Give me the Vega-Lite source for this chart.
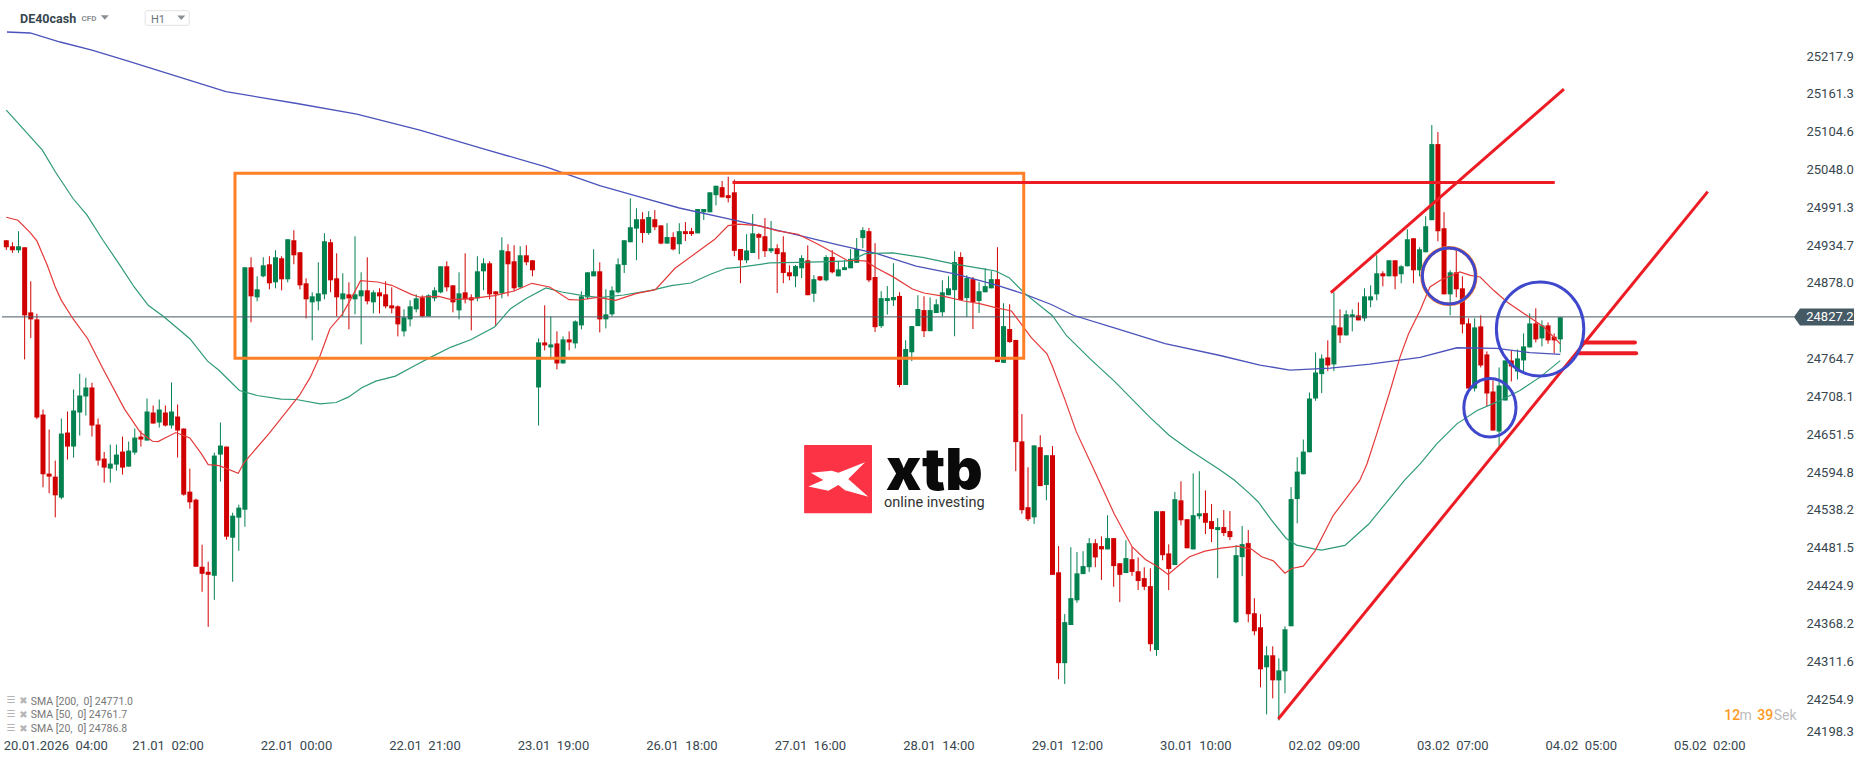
{"$schema":"https://vega.github.io/schema/vega-lite/v6.json","width":1866,"height":761,"autosize":"none","padding":0,"background":"#ffffff","config":{"view":{"stroke":null},"font":"Roboto"},
"datasets":{
"candles":[
{"bar":0,"open":24942,"high":24942,"low":24927.5,"close":24931.5},
{"bar":1,"open":24933,"high":24939,"low":24923,"close":24927},
{"bar":2,"open":24927,"high":24955.5,"low":24923,"close":24933},
{"bar":3,"open":24931.5,"high":24931.5,"low":24763.5,"close":24829.5},
{"bar":4,"open":24834,"high":24880.5,"low":24795.5,"close":24823.5},
{"bar":5,"open":24823.5,"high":24832,"low":24674,"close":24676.5},
{"bar":6,"open":24681,"high":24688.5,"low":24572,"close":24591.5},
{"bar":7,"open":24592.5,"high":24658.5,"low":24563,"close":24588},
{"bar":8,"open":24588,"high":24612,"low":24527,"close":24560},
{"bar":9,"open":24556.5,"high":24675,"low":24554,"close":24652.5},
{"bar":10,"open":24654,"high":24685.5,"low":24613.5,"close":24633},
{"bar":11,"open":24633,"high":24718.5,"low":24616.5,"close":24687},
{"bar":12,"open":24684,"high":24742,"low":24649.5,"close":24709.5},
{"bar":13,"open":24708,"high":24736,"low":24679.5,"close":24721.5},
{"bar":14,"open":24721.5,"high":24728.5,"low":24648,"close":24664.5},
{"bar":15,"open":24666,"high":24675,"low":24604.5,"close":24612},
{"bar":16,"open":24615,"high":24625,"low":24579,"close":24601.5},
{"bar":17,"open":24600,"high":24636,"low":24579,"close":24607.5},
{"bar":18,"open":24606,"high":24636,"low":24597,"close":24621},
{"bar":19,"open":24625.5,"high":24648,"low":24591,"close":24601.5},
{"bar":20,"open":24603,"high":24640.5,"low":24603,"close":24627},
{"bar":21,"open":24624,"high":24660,"low":24621,"close":24646.5},
{"bar":22,"open":24648,"high":24657,"low":24633,"close":24643.5},
{"bar":23,"open":24642,"high":24705,"low":24642,"close":24685.5},
{"bar":24,"open":24684,"high":24694.5,"low":24667.5,"close":24667.5},
{"bar":25,"open":24669,"high":24703.5,"low":24661.5,"close":24688.5},
{"bar":26,"open":24684,"high":24694.5,"low":24663,"close":24664.5},
{"bar":27,"open":24664.5,"high":24729,"low":24660,"close":24685.5},
{"bar":28,"open":24678,"high":24696,"low":24616.5,"close":24657},
{"bar":29,"open":24660,"high":24660,"low":24559.5,"close":24561},
{"bar":30,"open":24565.5,"high":24600,"low":24540,"close":24549.5},
{"bar":31,"open":24553.5,"high":24555,"low":24453,"close":24453},
{"bar":32,"open":24453,"high":24486,"low":24415.5,"close":24442.5},
{"bar":33,"open":24445.5,"high":24460.5,"low":24363,"close":24441},
{"bar":34,"open":24439.5,"high":24624,"low":24403.5,"close":24619.5},
{"bar":35,"open":24621,"high":24669,"low":24580.5,"close":24634.5},
{"bar":36,"open":24633,"high":24633,"low":24493.5,"close":24498},
{"bar":37,"open":24496.5,"high":24534,"low":24430.5,"close":24529.5},
{"bar":38,"open":24526.5,"high":24546,"low":24477,"close":24541.5},
{"bar":39,"open":24538.5,"high":24901.5,"low":24513,"close":24901.5},
{"bar":40,"open":24901.5,"high":24916.5,"low":24819,"close":24858},
{"bar":41,"open":24856.5,"high":24888,"low":24850.5,"close":24868.5},
{"bar":42,"open":24888,"high":24916.5,"low":24886.5,"close":24904.5},
{"bar":43,"open":24906,"high":24918,"low":24868.5,"close":24877.5},
{"bar":44,"open":24879,"high":24927,"low":24870,"close":24916.5},
{"bar":45,"open":24915,"high":24918,"low":24867,"close":24883.5},
{"bar":46,"open":24883.5,"high":24943.5,"low":24879,"close":24943.5},
{"bar":47,"open":24942,"high":24957,"low":24906,"close":24919.5},
{"bar":48,"open":24924,"high":24924,"low":24868.5,"close":24874.5},
{"bar":49,"open":24877.5,"high":24885,"low":24825,"close":24853.5},
{"bar":50,"open":24849,"high":24864,"low":24792,"close":24858},
{"bar":51,"open":24850.5,"high":24909,"low":24837,"close":24862.5},
{"bar":52,"open":24861,"high":24952.5,"low":24853.5,"close":24940.5},
{"bar":53,"open":24939,"high":24943.5,"low":24864,"close":24882},
{"bar":54,"open":24885,"high":24922.5,"low":24828,"close":24856.5},
{"bar":55,"open":24853.5,"high":24892.5,"low":24828,"close":24862.5},
{"bar":56,"open":24861,"high":24879,"low":24808.5,"close":24855},
{"bar":57,"open":24853.5,"high":24948,"low":24831,"close":24861},
{"bar":58,"open":24858,"high":24894,"low":24786,"close":24867},
{"bar":59,"open":24867,"high":24916.5,"low":24846,"close":24850.5},
{"bar":60,"open":24849,"high":24867,"low":24832.5,"close":24864},
{"bar":61,"open":24864,"high":24870,"low":24832.5,"close":24858},
{"bar":62,"open":24861,"high":24880.5,"low":24840,"close":24843},
{"bar":63,"open":24844.5,"high":24871.5,"low":24832.5,"close":24840},
{"bar":64,"open":24843,"high":24844.5,"low":24798,"close":24816},
{"bar":65,"open":24805.5,"high":24838.5,"low":24798,"close":24826.5},
{"bar":66,"open":24823.5,"high":24852,"low":24813,"close":24843},
{"bar":67,"open":24838.5,"high":24861,"low":24834,"close":24855},
{"bar":68,"open":24856.5,"high":24859.5,"low":24826.5,"close":24828},
{"bar":69,"open":24828,"high":24861,"low":24828,"close":24859.5},
{"bar":70,"open":24855,"high":24871.5,"low":24850.5,"close":24867},
{"bar":71,"open":24864,"high":24903,"low":24862.5,"close":24903},
{"bar":72,"open":24903,"high":24910.5,"low":24865.5,"close":24871.5},
{"bar":73,"open":24874.5,"high":24874.5,"low":24834,"close":24849},
{"bar":74,"open":24837,"high":24894,"low":24823.5,"close":24862.5},
{"bar":75,"open":24864,"high":24922.5,"low":24847.5,"close":24853.5},
{"bar":76,"open":24856.5,"high":24861,"low":24807,"close":24852},
{"bar":77,"open":24855,"high":24918,"low":24850.5,"close":24895.5},
{"bar":78,"open":24895.5,"high":24915,"low":24867,"close":24907.5},
{"bar":79,"open":24907.5,"high":24910.5,"low":24853.5,"close":24861},
{"bar":80,"open":24865.5,"high":24865.5,"low":24813,"close":24861},
{"bar":81,"open":24862.5,"high":24946.5,"low":24855,"close":24927},
{"bar":82,"open":24925.5,"high":24936,"low":24858,"close":24906},
{"bar":83,"open":24910.5,"high":24934.5,"low":24865.5,"close":24870},
{"bar":84,"open":24871.5,"high":24933,"low":24870,"close":24919.5},
{"bar":85,"open":24919.5,"high":24934.5,"low":24904.5,"close":24909},
{"bar":86,"open":24912,"high":24912,"low":24888,"close":24897},
{"bar":87,"open":24721.5,"high":24795,"low":24664.5,"close":24789},
{"bar":88,"open":24789,"high":24844.5,"low":24777,"close":24784.5},
{"bar":89,"open":24781.5,"high":24828,"low":24765,"close":24786},
{"bar":90,"open":24787.5,"high":24805.5,"low":24748.5,"close":24757.5},
{"bar":91,"open":24757.5,"high":24798,"low":24757.5,"close":24793.5},
{"bar":92,"open":24793.5,"high":24805.5,"low":24777,"close":24789},
{"bar":93,"open":24787.5,"high":24822,"low":24780,"close":24820.5},
{"bar":94,"open":24814.5,"high":24865.5,"low":24808.5,"close":24858},
{"bar":95,"open":24856.5,"high":24894,"low":24853.5,"close":24894},
{"bar":96,"open":24888,"high":24928.5,"low":24888,"close":24895.5},
{"bar":97,"open":24895.5,"high":24909,"low":24804,"close":24823.5},
{"bar":98,"open":24823.5,"high":24868.5,"low":24810,"close":24831},
{"bar":99,"open":24831,"high":24873,"low":24828,"close":24867},
{"bar":100,"open":24864,"high":24915,"low":24862.5,"close":24906},
{"bar":101,"open":24905,"high":24942,"low":24893,"close":24942},
{"bar":102,"open":24939,"high":25004.6,"low":24939,"close":24961.5},
{"bar":103,"open":24959.4,"high":24989.9,"low":24912,"close":24973.5},
{"bar":104,"open":24973.5,"high":24983.9,"low":24938.1,"close":24952.8},
{"bar":105,"open":24952.8,"high":24985.5,"low":24950.1,"close":24976.8},
{"bar":106,"open":24973.5,"high":24987.1,"low":24957.2,"close":24961.5},
{"bar":107,"open":24964.3,"high":24964.3,"low":24936,"close":24937},
{"bar":108,"open":24937,"high":24967.5,"low":24937,"close":24946.8},
{"bar":109,"open":24946.8,"high":24953.9,"low":24926.7,"close":24928.3},
{"bar":110,"open":24936,"high":24967.5,"low":24921.2,"close":24955.6},
{"bar":111,"open":24955.6,"high":24969.2,"low":24940.8,"close":24951.2},
{"bar":112,"open":24955.6,"high":24960.5,"low":24948.5,"close":24951.2},
{"bar":113,"open":24952.3,"high":24988.8,"low":24952.3,"close":24988.8},
{"bar":114,"open":24983.9,"high":24988.8,"low":24972.4,"close":24988.8},
{"bar":115,"open":24983.9,"high":25013.8,"low":24983.9,"close":25013.8},
{"bar":116,"open":25009.5,"high":25023.6,"low":24994.2,"close":25023.6},
{"bar":117,"open":25021.5,"high":25030.7,"low":25006.2,"close":25006.2},
{"bar":118,"open":25009.5,"high":25037.2,"low":24998.6,"close":25005.1},
{"bar":119,"open":25013.8,"high":25032.9,"low":24918,"close":24926.1},
{"bar":120,"open":24928.9,"high":24928.9,"low":24877.7,"close":24912},
{"bar":121,"open":24912,"high":24951.2,"low":24907.6,"close":24926.7},
{"bar":122,"open":24922.9,"high":24981.2,"low":24922.9,"close":24952.3},
{"bar":123,"open":24951.2,"high":24952.8,"low":24913.6,"close":24945.8},
{"bar":124,"open":24948,"high":24975.2,"low":24916.9,"close":24925.6},
{"bar":125,"open":24925.6,"high":24970.8,"low":24922.9,"close":24930},
{"bar":126,"open":24930,"high":24936,"low":24863,"close":24921.2},
{"bar":127,"open":24924,"high":24948,"low":24877.7,"close":24893},
{"bar":128,"open":24894,"high":24904.4,"low":24882,"close":24888},
{"bar":129,"open":24888,"high":24905,"low":24871.7,"close":24903.3},
{"bar":130,"open":24900,"high":24919.6,"low":24885.3,"close":24915.3},
{"bar":131,"open":24912,"high":24934.3,"low":24859.7,"close":24859.7},
{"bar":132,"open":24861.9,"high":24889.7,"low":24849.4,"close":24883.7},
{"bar":133,"open":24888,"high":24888,"low":24881,"close":24882},
{"bar":134,"open":24882,"high":24919.6,"low":24880.4,"close":24916.9},
{"bar":135,"open":24916.9,"high":24927.2,"low":24892.4,"close":24894},
{"bar":136,"open":24888,"high":24910.4,"low":24888,"close":24898.4},
{"bar":137,"open":24897.3,"high":24912,"low":24897.3,"close":24901.6},
{"bar":138,"open":24900,"high":24928.9,"low":24900,"close":24914.2},
{"bar":139,"open":24908.2,"high":24945.2,"low":24908.2,"close":24928.9},
{"bar":140,"open":24945.2,"high":24961.5,"low":24930,"close":24957.2},
{"bar":141,"open":24955.6,"high":24960.5,"low":24879.3,"close":24882},
{"bar":142,"open":24887,"high":24937.6,"low":24804.7,"close":24811.8},
{"bar":143,"open":24813.4,"high":24865.7,"low":24810.7,"close":24855.3},
{"bar":144,"open":24851,"high":24873.3,"low":24830.8,"close":24855.3},
{"bar":145,"open":24852.1,"high":24907.6,"low":24843.4,"close":24857},
{"bar":146,"open":24858.6,"high":24864.1,"low":24721.9,"close":24725.2},
{"bar":147,"open":24725.2,"high":24792.2,"low":24725.2,"close":24779.1},
{"bar":148,"open":24774.2,"high":24813.4,"low":24761.1,"close":24813.4},
{"bar":149,"open":24813.4,"high":24859.7,"low":24813.4,"close":24839},
{"bar":150,"open":24837.4,"high":24858.1,"low":24797.1,"close":24805.8},
{"bar":151,"open":24805.8,"high":24856.4,"low":24805.8,"close":24837.4},
{"bar":152,"open":24833,"high":24853.7,"low":24833,"close":24846.1},
{"bar":153,"open":24834.1,"high":24882,"low":24828.1,"close":24864.1},
{"bar":154,"open":24859.7,"high":24888,"low":24859.7,"close":24870},
{"bar":155,"open":24867.3,"high":24925.6,"low":24798.2,"close":24909.3},
{"bar":156,"open":24916.9,"high":24924,"low":24852.6,"close":24852.6},
{"bar":157,"open":24855.3,"high":24889.7,"low":24827,"close":24885.3},
{"bar":158,"open":24883.7,"high":24887,"low":24809.1,"close":24849.4},
{"bar":159,"open":24851,"high":24879.3,"low":24833,"close":24865.7},
{"bar":160,"open":24864.1,"high":24900,"low":24864.1,"close":24873.3},
{"bar":161,"open":24870,"high":24895.7,"low":24870,"close":24883.7},
{"bar":162,"open":24883.7,"high":24931.6,"low":24759.5,"close":24759.5},
{"bar":163,"open":24758.4,"high":24847.7,"low":24758.4,"close":24813.4},
{"bar":164,"open":24809.1,"high":24846.1,"low":24788.4,"close":24789.5},
{"bar":165,"open":24792.7,"high":24792.7,"low":24596.1,"close":24639.7},
{"bar":166,"open":24640.8,"high":24681.6,"low":24532.4,"close":24537.8},
{"bar":167,"open":24542.2,"high":24602.1,"low":24521.5,"close":24524.2},
{"bar":168,"open":24527,"high":24634.8,"low":24517.2,"close":24634.8},
{"bar":169,"open":24632.1,"high":24650,"low":24573.8,"close":24573.8},
{"bar":170,"open":24575.4,"high":24620.1,"low":24552.5,"close":24620.1},
{"bar":171,"open":24620.1,"high":24633.7,"low":24440.9,"close":24440.9},
{"bar":172,"open":24444.7,"high":24483.9,"low":24284.6,"close":24308.6},
{"bar":173,"open":24308.6,"high":24382.1,"low":24277.5,"close":24370.1},
{"bar":174,"open":24365.8,"high":24482.3,"low":24365.8,"close":24406},
{"bar":175,"open":24402.8,"high":24475.2,"low":24399,"close":24443.1},
{"bar":176,"open":24442,"high":24476.3,"low":24442,"close":24454},
{"bar":177,"open":24452.3,"high":24495.9,"low":24445.3,"close":24488.3},
{"bar":178,"open":24488.3,"high":24494.3,"low":24452.3,"close":24467},
{"bar":179,"open":24484,"high":24498.6,"low":24433.3,"close":24479},
{"bar":180,"open":24479,"high":24530.2,"low":24479,"close":24495.9},
{"bar":181,"open":24495.9,"high":24495.9,"low":24423,"close":24454},
{"bar":182,"open":24458.3,"high":24458.3,"low":24400,"close":24440.9},
{"bar":183,"open":24443.6,"high":24492.6,"low":24443.6,"close":24466},
{"bar":184,"open":24464.3,"high":24482.3,"low":24439.3,"close":24445.3},
{"bar":185,"open":24446.3,"high":24467,"low":24418,"close":24431.6},
{"bar":186,"open":24436,"high":24452.3,"low":24418,"close":24423},
{"bar":187,"open":24424,"high":24450.7,"low":24326.5,"close":24337},
{"bar":188,"open":24328.2,"high":24536.2,"low":24319.5,"close":24536.2},
{"bar":189,"open":24536.2,"high":24536.2,"low":24462.7,"close":24470.3},
{"bar":190,"open":24473,"high":24486.6,"low":24418,"close":24449.6},
{"bar":191,"open":24455.6,"high":24565.1,"low":24455.6,"close":24554.2},
{"bar":192,"open":24552.5,"high":24580.9,"low":24515,"close":24522.6},
{"bar":193,"open":24524.2,"high":24524.2,"low":24480.7,"close":24480.7},
{"bar":194,"open":24479,"high":24592.8,"low":24479,"close":24530.2},
{"bar":195,"open":24528.6,"high":24596.1,"low":24524.2,"close":24533},
{"bar":196,"open":24533.4,"high":24567.3,"low":24501.9,"close":24518.9},
{"bar":197,"open":24521.4,"high":24546.9,"low":24489.9,"close":24509.4},
{"bar":198,"open":24507.9,"high":24525.9,"low":24435.9,"close":24512.4},
{"bar":199,"open":24512.4,"high":24537.9,"low":24498.9,"close":24503.4},
{"bar":200,"open":24506.4,"high":24536.4,"low":24492.9,"close":24497.4},
{"bar":201,"open":24369.9,"high":24485.4,"low":24368.4,"close":24470.4},
{"bar":202,"open":24467.4,"high":24513.9,"low":24438.9,"close":24486.9},
{"bar":203,"open":24488.4,"high":24507.9,"low":24369.9,"close":24381.9},
{"bar":204,"open":24383.4,"high":24405.9,"low":24350.4,"close":24356.4},
{"bar":205,"open":24362.4,"high":24381.9,"low":24272.4,"close":24299.4},
{"bar":206,"open":24302.4,"high":24333.9,"low":24231.9,"close":24320.4},
{"bar":207,"open":24320.4,"high":24333.9,"low":24255.9,"close":24282.9},
{"bar":208,"open":24282.9,"high":24315.9,"low":24222.9,"close":24297.9},
{"bar":209,"open":24296.4,"high":24363.9,"low":24263.4,"close":24359.4},
{"bar":210,"open":24363.9,"high":24572.4,"low":24363.9,"close":24554.4},
{"bar":211,"open":24554.4,"high":24617,"low":24518,"close":24595.5},
{"bar":212,"open":24591.5,"high":24643.5,"low":24591.5,"close":24625.5},
{"bar":213,"open":24624.5,"high":24714,"low":24624.5,"close":24705},
{"bar":214,"open":24705,"high":24774,"low":24701.5,"close":24744},
{"bar":215,"open":24741.5,"high":24771,"low":24713,"close":24765},
{"bar":216,"open":24766.5,"high":24792,"low":24746,"close":24754.5},
{"bar":217,"open":24756,"high":24864,"low":24746,"close":24814.5},
{"bar":218,"open":24811.5,"high":24838.5,"low":24788,"close":24799.5},
{"bar":219,"open":24799.5,"high":24837,"low":24799.5,"close":24831},
{"bar":220,"open":24827,"high":24838.5,"low":24805.5,"close":24831},
{"bar":221,"open":24829.5,"high":24849,"low":24822,"close":24822},
{"bar":222,"open":24825,"high":24870,"low":24820.5,"close":24858},
{"bar":223,"open":24852,"high":24874.5,"low":24841.5,"close":24858},
{"bar":224,"open":24861,"high":24919.5,"low":24852,"close":24892.5},
{"bar":225,"open":24892.5,"high":24895.5,"low":24873,"close":24888},
{"bar":226,"open":24888,"high":24912,"low":24888,"close":24912},
{"bar":227,"open":24912,"high":24912,"low":24868.5,"close":24888},
{"bar":228,"open":24891,"high":24904.5,"low":24877.5,"close":24903},
{"bar":229,"open":24903,"high":24958.5,"low":24903,"close":24943.5},
{"bar":230,"open":24945,"high":24945,"low":24877.5,"close":24897},
{"bar":231,"open":24897,"high":24931.5,"low":24888,"close":24928.5},
{"bar":232,"open":24924,"high":24978,"low":24924,"close":24963},
{"bar":233,"open":24972,"high":25114.5,"low":24972,"close":25086},
{"bar":234,"open":25086,"high":25104,"low":24940.5,"close":24955.5},
{"bar":235,"open":24960,"high":24984,"low":24861,"close":24861},
{"bar":236,"open":24861,"high":24897,"low":24829.5,"close":24894},
{"bar":237,"open":24894,"high":24927,"low":24856.5,"close":24868.5},
{"bar":238,"open":24870,"high":24888,"low":24802.5,"close":24816},
{"bar":239,"open":24817.5,"high":24825,"low":24720,"close":24720},
{"bar":240,"open":24720,"high":24825,"low":24715.5,"close":24811.5},
{"bar":241,"open":24813,"high":24829.5,"low":24751.5,"close":24754.5},
{"bar":242,"open":24771,"high":24775.5,"low":24693,"close":24712.5},
{"bar":243,"open":24715.5,"high":24732,"low":24657,"close":24657},
{"bar":244,"open":24655.5,"high":24751.5,"low":24633,"close":24724.5},
{"bar":245,"open":24702,"high":24762,"low":24702,"close":24762},
{"bar":246,"open":24762,"high":24777,"low":24730.5,"close":24753},
{"bar":247,"open":24745.5,"high":24778.5,"low":24733.5,"close":24765},
{"bar":248,"open":24762,"high":24802.5,"low":24745.5,"close":24783},
{"bar":249,"open":24781.5,"high":24832.5,"low":24781.5,"close":24817.5},
{"bar":250,"open":24817.5,"high":24840,"low":24789,"close":24793.5},
{"bar":251,"open":24795,"high":24822,"low":24783,"close":24814.5},
{"bar":252,"open":24814.5,"high":24819,"low":24787,"close":24792},
{"bar":253,"open":24797.5,"high":24802.5,"low":24772.5,"close":24792},
{"bar":254,"open":24793.5,"high":24826.5,"low":24774,"close":24826.5}
],
"sma20":[
{"bar":0,"price":24976.5},{"bar":1.9,"price":24972},{"bar":3.8,"price":24954.5},{"bar":5,"price":24941},{"bar":6.7,"price":24904.5},{"bar":8,"price":24872},{"bar":9,"price":24852},{"bar":10.9,"price":24824.5},{"bar":13.3,"price":24794.5},{"bar":15.8,"price":24749.5},{"bar":19.3,"price":24689.5},{"bar":21.9,"price":24654.5},{"bar":23.9,"price":24641},{"bar":24.8,"price":24640.5},{"bar":27.7,"price":24654},{"bar":30,"price":24646},{"bar":31.9,"price":24622},{"bar":33,"price":24606},{"bar":34.8,"price":24604.5},{"bar":37.9,"price":24593},{"bar":38.9,"price":24609.5},{"bar":42.9,"price":24652},{"bar":46.8,"price":24697},{"bar":47.9,"price":24709.5},{"bar":49.7,"price":24737},{"bar":51.3,"price":24769.5},{"bar":52.9,"price":24809.5},{"bar":54.9,"price":24831},{"bar":56.2,"price":24852},{"bar":57.9,"price":24881.5},{"bar":60.7,"price":24879.5},{"bar":63,"price":24874.5},{"bar":66.2,"price":24861},{"bar":67.5,"price":24857},{"bar":70.7,"price":24858},{"bar":72.7,"price":24853},{"bar":75.9,"price":24854.5},{"bar":79.8,"price":24859},{"bar":83,"price":24866},{"bar":85.9,"price":24877.5},{"bar":88.8,"price":24872},{"bar":92,"price":24853},{"bar":93.7,"price":24852.5},{"bar":96.6,"price":24856.5},{"bar":99.6,"price":24852},{"bar":102.9,"price":24862},{"bar":106.1,"price":24868},{"bar":109.3,"price":24900},{"bar":112.6,"price":24922},{"bar":115.8,"price":24943.6},{"bar":118,"price":24964},{"bar":119.7,"price":24966},{"bar":122.9,"price":24964},{"bar":126.1,"price":24956},{"bar":129.4,"price":24951},{"bar":132.6,"price":24936.5},{"bar":135.2,"price":24923.4},{"bar":137.4,"price":24912},{"bar":140.4,"price":24911},{"bar":142.3,"price":24900},{"bar":144.9,"price":24887.5},{"bar":148.1,"price":24869},{"bar":150,"price":24863},{"bar":153.3,"price":24858},{"bar":156.5,"price":24851},{"bar":159.1,"price":24847},{"bar":161.7,"price":24841},{"bar":164.3,"price":24836},{"bar":167.5,"price":24796.5},{"bar":170.1,"price":24772},{"bar":171,"price":24753},{"bar":173,"price":24704},{"bar":174.9,"price":24655},{"bar":177.8,"price":24598},{"bar":181.1,"price":24532},{"bar":184,"price":24483},{"bar":186.2,"price":24464},{"bar":188.2,"price":24453},{"bar":189.9,"price":24441.5},{"bar":191.4,"price":24453},{"bar":193.4,"price":24468},{"bar":195.9,"price":24476.4},{"bar":198.6,"price":24480.9},{"bar":201.3,"price":24483.9},{"bar":203.5,"price":24479.4},{"bar":205.2,"price":24467.9},{"bar":207.1,"price":24461.9},{"bar":209,"price":24443.4},{"bar":210.1,"price":24450.4},{"bar":212,"price":24453.9},{"bar":213.9,"price":24476.4},{"bar":216.9,"price":24530},{"bar":221.2,"price":24582},{"bar":222.4,"price":24607},{"bar":224,"price":24652},{"bar":226.2,"price":24717},{"bar":227.8,"price":24767},{"bar":229.2,"price":24802},{"bar":231.1,"price":24837},{"bar":232.7,"price":24872},{"bar":234.4,"price":24882},{"bar":237.6,"price":24894.5},{"bar":239.3,"price":24889.5},{"bar":240.9,"price":24887},{"bar":243.1,"price":24867},{"bar":245.3,"price":24849.5},{"bar":248.5,"price":24829.5},{"bar":251.3,"price":24812},{"bar":254,"price":24786.8}
],
"sma50":[
{"bar":0,"price":25137},{"bar":5.9,"price":25077},{"bar":8,"price":25044.5},{"bar":10.9,"price":25004.5},{"bar":13.2,"price":24979.5},{"bar":15.8,"price":24942},{"bar":18.4,"price":24907},{"bar":20.9,"price":24872},{"bar":23.2,"price":24844.5},{"bar":25.8,"price":24827},{"bar":30,"price":24794.5},{"bar":32.9,"price":24761},{"bar":34.8,"price":24747},{"bar":38.1,"price":24717},{"bar":41,"price":24709.5},{"bar":44.9,"price":24704},{"bar":47.4,"price":24703.5},{"bar":51.3,"price":24697},{"bar":53.9,"price":24699},{"bar":55.9,"price":24707},{"bar":58.1,"price":24721},{"bar":60.4,"price":24731},{"bar":63.6,"price":24738.5},{"bar":66.8,"price":24754.5},{"bar":69.4,"price":24767},{"bar":72.7,"price":24782},{"bar":75.9,"price":24793},{"bar":79.8,"price":24812},{"bar":82.4,"price":24839.5},{"bar":84.9,"price":24854.5},{"bar":88.2,"price":24870.5},{"bar":90.8,"price":24864.5},{"bar":94,"price":24859.5},{"bar":97,"price":24856},{"bar":100.9,"price":24860},{"bar":105.4,"price":24867},{"bar":108.7,"price":24874},{"bar":111.9,"price":24878},{"bar":115.1,"price":24891},{"bar":117.7,"price":24900},{"bar":120.3,"price":24902},{"bar":124.8,"price":24908},{"bar":129.4,"price":24909},{"bar":134.5,"price":24910},{"bar":137.8,"price":24911},{"bar":140.4,"price":24922},{"bar":144.9,"price":24923},{"bar":150,"price":24916},{"bar":154.6,"price":24907},{"bar":159.7,"price":24899},{"bar":161.7,"price":24896},{"bar":163.9,"price":24886},{"bar":166.5,"price":24862},{"bar":171,"price":24829},{"bar":173.3,"price":24799},{"bar":177.2,"price":24764},{"bar":181.1,"price":24731},{"bar":186.9,"price":24677},{"bar":190.1,"price":24649.5},{"bar":193.4,"price":24628},{"bar":198.4,"price":24598},{"bar":200.7,"price":24582.9},{"bar":203,"price":24564.4},{"bar":204.6,"price":24550.4},{"bar":206.8,"price":24522.9},{"bar":209.2,"price":24495.4},{"bar":210.9,"price":24485.4},{"bar":213.9,"price":24479.4},{"bar":215,"price":24478},{"bar":218.8,"price":24485},{"bar":222.7,"price":24517},{"bar":228.6,"price":24583},{"bar":231.1,"price":24607},{"bar":233.8,"price":24637},{"bar":237.1,"price":24667},{"bar":240.4,"price":24687},{"bar":243.6,"price":24699.5},{"bar":247.4,"price":24717},{"bar":250.7,"price":24737},{"bar":254,"price":24761.7}
],
"sma200":[
{"bar":0.1,"price":25253.9},{"bar":3.9,"price":25252.4},{"bar":8.8,"price":25238.9},{"bar":14,"price":25226.9},{"bar":19.4,"price":25211.9},{"bar":35.9,"price":25164.6},{"bar":47.5,"price":25146.8},{"bar":57.3,"price":25130.8},{"bar":67.6,"price":25107},{"bar":78.7,"price":25077},{"bar":88.2,"price":25052},{"bar":97,"price":25023.8},{"bar":103.5,"price":25006.8},{"bar":110,"price":24990.3},{"bar":119,"price":24972.3},{"bar":129.4,"price":24949.8},{"bar":135.8,"price":24935.6},{"bar":142.3,"price":24922},{"bar":148.7,"price":24903.4},{"bar":155.2,"price":24891.4},{"bar":161.6,"price":24875.7},{"bar":166.2,"price":24862},{"bar":170.8,"price":24845.8},{"bar":174.5,"price":24829.3},{"bar":181.1,"price":24810.6},{"bar":189.4,"price":24787.3},{"bar":198.4,"price":24769.4},{"bar":204.9,"price":24755},{"bar":209.8,"price":24747.6},{"bar":216.4,"price":24750.6},{"bar":222.9,"price":24756.6},{"bar":231.1,"price":24766.7},{"bar":237.1,"price":24781},{"bar":243.6,"price":24780},{"bar":249,"price":24773.6},{"bar":254,"price":24771}
],
"trendlines":[
{"bar":118.7,"bar2":253.1,"price":25028.6,"price2":25028.6},
{"bar":216.5,"bar2":254.6,"price":24863.4,"price2":25168.5},
{"bar":207.9,"bar2":278.1,"price":24225,"price2":25014.8}
],
"marks":[
{"bar":257.8,"bar2":266.2,"price":24789,"price2":24789},
{"bar":257,"bar2":266.4,"price":24772.7,"price2":24772.7}
],
"legend":[
{"bar":4,"price":24250.9,"text":"SMA [200,\u00a0\u00a00] 24771.0"},
{"bar":4,"price":24230.5,"text":"SMA [50,\u00a0\u00a00] 24761.7"},
{"bar":4,"price":24209.5,"text":"SMA [20,\u00a0\u00a00] 24786.8"}
]
},
"encoding":{
"x":{"field":"bar","type":"quantitative","scale":{"domain":[-1.03,303.97],"nice":false,"zero":false},"axis":{"orient":"bottom","offset":-16,"title":null,"grid":false,"domain":false,"ticks":false,"labelPadding":0,"labelBaseline":"middle","labelFontSize":13,"labelFont":"Roboto","labelColor":"#37474f","labelFlush":false,"labelBound":false,"labelOverlap":false,"values":[8,26.35,47.35,68.35,89.35,110.35,131.35,152.35,173.35,194.35,215.35,236.35,257.35,278.35],"labelExpr":"['20.01.2026\u00a0\u00a004:00','21.01\u00a0\u00a002:00','22.01\u00a0\u00a000:00','22.01\u00a0\u00a021:00','23.01\u00a0\u00a019:00','26.01\u00a0\u00a018:00','27.01\u00a0\u00a016:00','28.01\u00a0\u00a014:00','29.01\u00a0\u00a012:00','30.01\u00a0\u00a010:00','02.02\u00a0\u00a009:00','03.02\u00a0\u00a007:00','04.02\u00a0\u00a005:00','05.02\u00a0\u00a002:00'][round((datum.value-26.35)/21)+1]"}},
"y":{"field":"price","type":"quantitative","scale":{"domain":[24162.1,25301.8],"nice":false,"zero":false},"axis":{"orient":"right","offset":-60,"title":null,"grid":false,"domain":false,"ticks":false,"labelPadding":0,"labelAlign":"left","labelBaseline":"middle","labelFontSize":13,"labelFont":"Roboto","labelColor":"#37474f","labelFlush":false,"labelBound":false,"labelOverlap":false,"values":[25217.9,25161.3,25104.6,25048,24991.3,24934.7,24878,24764.7,24708.1,24651.5,24594.8,24538.2,24481.5,24424.9,24368.2,24311.6,24254.9,24206],"labelExpr":"datum.value==24206?'24198.3':format(datum.value,'.1f')"}}
},
"layer":[
{"data":{"name":"candles"},"mark":{"type":"rule","strokeWidth":1},"encoding":{
"y":{"field":"high","type":"quantitative","title":null,"scale":{"domain":[24162.1,25301.8],"nice":false,"zero":false}},
"y2":{"field":"low"},
"color":{"condition":{"test":"datum.close>=datum.open","value":"#03814f"},"value":"#d10000"}}},
{"data":{"name":"candles"},"mark":{"type":"rule","strokeWidth":5},"encoding":{
"y":{"field":"open","type":"quantitative","title":null,"scale":{"domain":[24162.1,25301.8],"nice":false,"zero":false}},
"y2":{"field":"close"},
"color":{"condition":{"test":"datum.close>=datum.open","value":"#03814f"},"value":"#d10000"}}},
{"data":{"values":[{"bar":-0.7,"bar2":292.3,"price":24827.2}]},"mark":{"type":"rule","strokeWidth":1,"color":"#455a64"},"encoding":{"x2":{"field":"bar2"}}},
{"data":{"name":"sma200"},"mark":{"type":"line","strokeWidth":1.3,"color":"#4b53bb"}},
{"data":{"name":"sma50"},"mark":{"type":"line","strokeWidth":1.2,"color":"#2f9a78"}},
{"data":{"name":"sma20"},"mark":{"type":"line","strokeWidth":1.2,"color":"#e53a3a"}},
{"data":{"values":[{"bar":37.38,"bar2":166.3,"price":25042.2,"price2":24765.2}]},"mark":{"type":"rect","fillOpacity":0,"stroke":"#ff7f27","strokeWidth":3},"encoding":{"x2":{"field":"bar2"},"y2":{"field":"price2"}}},
{"data":{"name":"trendlines"},"mark":{"type":"rule","strokeWidth":3,"color":"#ed1c24"},"encoding":{"x2":{"field":"bar2"},"y2":{"field":"price2"}}},
{"data":{"name":"marks"},"mark":{"type":"rule","strokeWidth":4,"color":"#ed1c24","strokeCap":"round"},"encoding":{"x2":{"field":"bar2"},"y2":{"field":"price2"}}},
{"data":{"values":[{"bar":235.8,"price":24888.4}]},"mark":{"type":"point","filled":false,"opacity":1,"shape":"M-0.95,0A0.95,1,0,1,1,0.95,0A0.95,1,0,1,1,-0.95,0Z","size":3200,"stroke":"#ff7f27","strokeWidth":3.6}},
{"data":{"values":[{"bar":235.8,"price":24888.4}]},"mark":{"type":"point","filled":false,"opacity":1,"shape":"M-0.95,0A0.95,1,0,1,1,0.95,0A0.95,1,0,1,1,-0.95,0Z","size":3136,"stroke":"#3f48cc","strokeWidth":3}},
{"data":{"values":[{"bar":242.5,"price":24691.2}]},"mark":{"type":"point","filled":false,"opacity":1,"shape":"M-0.89,0A0.89,1,0,1,1,0.89,0A0.89,1,0,1,1,-0.89,0Z","size":3434,"stroke":"#3f48cc","strokeWidth":3}},
{"data":{"values":[{"bar":250.7,"price":24809}]},"mark":{"type":"point","filled":false,"opacity":1,"shape":"M-0.93,0A0.93,1,0,1,1,0.93,0A0.93,1,0,1,1,-0.93,0Z","size":8836,"stroke":"#3f48cc","strokeWidth":3}},
{"data":{"values":[{"bar":130.4,"bar2":141.5,"price":24635.3,"price2":24533}]},"mark":{"type":"rect","fill":"#fb3344","cornerRadius":1},"encoding":{"x2":{"field":"bar2"},"y2":{"field":"price2"}}},
{"data":{"values":[{"bar":136,"price":24583.9}]},"mark":{"type":"point","filled":true,"opacity":1,"color":"#ffffff","size":3600,"shape":"M-0.92,-0.22L-0.22,-0.29L0,-0.22L0.89,-0.57L0.33,-0.01L1,0.58L0.22,0.36L0,0.19L-0.33,0.38L-1,0.24L-0.5,0.02Z"}},
{"data":{"values":[{"bar":151.7,"price":24567.9,"text":"xtb"}]},"mark":{"type":"text","font":"Inter","fontWeight":900,"fontSize":58,"color":"#0a0a0a","align":"center","baseline":"alphabetic"},"encoding":{"text":{"field":"text"}}},
{"data":{"values":[{"bar":151.7,"price":24542,"text":"online investing"}]},"mark":{"type":"text","font":"Roboto","fontSize":14.5,"color":"#333333","align":"center","baseline":"alphabetic"},"encoding":{"text":{"field":"text"}}},
{"data":{"name":"legend"},"mark":{"type":"text","font":"Roboto","fontSize":10.5,"color":"#777777","align":"left","baseline":"middle"},"encoding":{"text":{"field":"text"}}},
{"data":{"values":[{"bar":0.75,"price":24253,"text":"☰"},{"bar":0.75,"price":24232.5,"text":"☰"},{"bar":0.75,"price":24211.5,"text":"☰"},{"bar":2.8,"price":24252,"text":"✖"},{"bar":2.8,"price":24231.5,"text":"✖"},{"bar":2.8,"price":24210.5,"text":"✖"}]},"mark":{"type":"text","font":"DejaVu Sans","fontSize":10,"color":"#b5b5b5","align":"center","baseline":"middle"},"encoding":{"text":{"field":"text"}}},
{"data":{"values":[{"bar":2.24,"price":25274,"text":"DE40cash"}]},"mark":{"type":"text","font":"Roboto","fontWeight":"bold","fontSize":12.5,"color":"#37474f","align":"left","baseline":"middle"},"encoding":{"text":{"field":"text"}}},
{"data":{"values":[{"bar":12.3,"price":25273.4,"text":"CFD"}]},"mark":{"type":"text","font":"Roboto","fontWeight":"bold","fontSize":8,"color":"#8a8f94","align":"left","baseline":"middle"},"encoding":{"text":{"field":"text"}}},
{"data":{"values":[{"bar":16.1,"price":25275.6},{"bar":28.6,"price":25275.3}]},"mark":{"type":"point","filled":true,"opacity":1,"color":"#8a8f94","shape":"M-1,-0.55L1,-0.55L0,0.55Z","size":64}},
{"data":{"values":[{"bar":22.7,"bar2":29.9,"price":25285.8,"price2":25263.9}]},"mark":{"type":"rect","fillOpacity":0,"stroke":"#e2e2e2","strokeWidth":1,"cornerRadius":2},"encoding":{"x2":{"field":"bar2"},"y2":{"field":"price2"}}},
{"data":{"values":[{"bar":23.65,"price":25271.8,"text":"H1"}]},"mark":{"type":"text","font":"Roboto","fontSize":11,"color":"#6a7278","align":"left","baseline":"middle"},"encoding":{"text":{"field":"text"}}},
{"data":{"values":[{"bar":297.1,"price":24827.2}]},"mark":{"type":"point","filled":true,"opacity":1,"color":"#455a64","shape":"M-1,0L-0.8,-0.283L1,-0.283L1,0.283L-0.8,0.283Z","size":3600}},
{"data":{"values":[{"bar":294.2,"price":24827.2,"text":"24827.2"}]},"mark":{"type":"text","font":"Roboto","fontSize":13,"color":"#ffffff","align":"left","baseline":"middle"},"encoding":{"text":{"field":"text"}}},
{"data":{"values":[{"bar":280.8,"price":24229,"text":"12"},{"bar":286.2,"price":24229,"text":"39"}]},"mark":{"type":"text","font":"Roboto","fontSize":14,"fontWeight":500,"color":"#ff9a1f","align":"left","baseline":"middle"},"encoding":{"text":{"field":"text"}}},
{"data":{"values":[{"bar":283.3,"price":24229,"text":"m"},{"bar":288.9,"price":24229,"text":"Sek"}]},"mark":{"type":"text","font":"Roboto","fontSize":14,"color":"#bdbdbd","align":"left","baseline":"middle"},"encoding":{"text":{"field":"text"}}}
]}
